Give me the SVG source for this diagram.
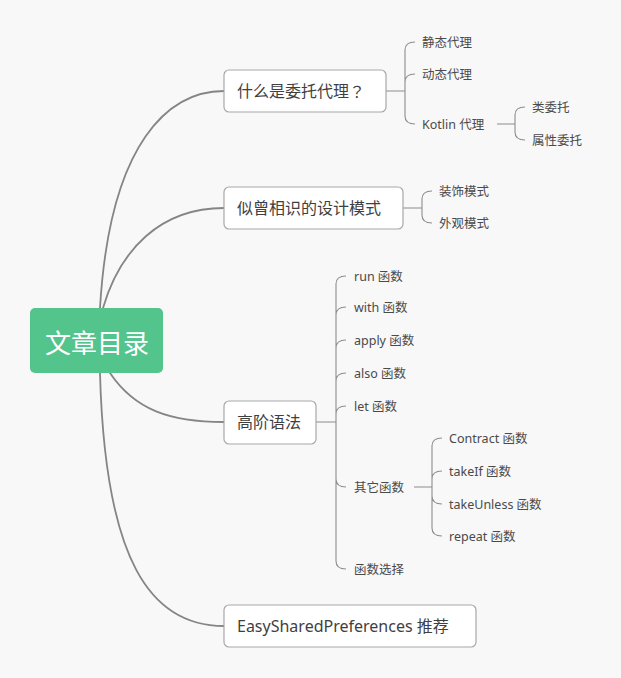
<svg xmlns="http://www.w3.org/2000/svg" width="621" height="678" viewBox="0 0 621 678">
<style>
.bg{fill:#f8f8f8}
.box{fill:#ffffff;stroke:#a8a8a8;stroke-width:1.2}
.root{fill:#52c48c}
.main{fill:none;stroke:#858585;stroke-width:1.8;stroke-linecap:round}
.sub{fill:none;stroke:#8c8c8c;stroke-width:1.1}
.t1{font-family:"Noto Sans","Noto Sans CJK SC",sans-serif;font-size:16px;fill:#3f3f3f;dominant-baseline:central}
.t2{font-family:"Noto Sans","Noto Sans CJK SC",sans-serif;font-size:12.5px;fill:#4a4a4a;dominant-baseline:central}
.cjk{font-family:"Noto Sans CJK JP","Noto Sans CJK SC",sans-serif}
.tr{font-family:"Noto Sans CJK SC","Noto Sans",sans-serif;font-size:26px;fill:#ffffff;dominant-baseline:central;text-anchor:middle}
</style>
<rect class="bg" x="0" y="0" width="621" height="678"/>
<g id="connectors">
<path class="main" d="M100 308 C110 140 170 91 224 91"/>
<path class="main" d="M103 308 C120 250 160 208 224 208"/>
<path class="main" d="M110 373 C135 410 170 422 224 422"/>
<path class="main" d="M100 373 C105 560 150 626 224 626"/>
<path class="sub" d="M386 91 H405 M405 91 V50 Q405 42 415 42 M405 91 V82 Q405 74 415 74 M405 91 V116 Q405 124 415 124"/>
<path class="sub" d="M497 124 H515 M515 124 V115 Q515 107 525 107 M515 124 V132 Q515 140 525 140"/>
<path class="sub" d="M403 208 H422 M422 208 V199 Q422 191 432 191 M422 208 V215 Q422 223 432 223"/>
<path class="sub" d="M316 422 H336 M336 422 V284 Q336 276 346 276 M336 422 V315 Q336 307 346 307 M336 422 V348 Q336 340 346 340 M336 422 V381 Q336 373 346 373 M336 422 V414 Q336 406 346 406 M336 422 V479 Q336 487 346 487 M336 422 V561 Q336 569 346 569"/>
<path class="sub" d="M414 487 H432 M432 487 V446 Q432 438 442 438 M432 487 V479 Q432 471 442 471 M432 487 V496 Q432 504 442 504 M432 487 V528 Q432 536 442 536"/>
</g>
<g id="root"><rect class="root" x="30" y="308" width="133" height="65" rx="5"/><text class="tr" x="97" y="341">文章目录</text></g>
<g id="n1"><rect class="box" x="224" y="70" width="162" height="42" rx="5"/><text class="t1" x="237" y="91">什么是委托代理<tspan class="cjk">？</tspan></text></g>
<g id="n2"><rect class="box" x="224" y="187" width="179" height="42" rx="5"/><text class="t1" x="237" y="208">似曾相识的设计模式</text></g>
<g id="n3"><rect class="box" x="224" y="401" width="92" height="43" rx="5"/><text class="t1" x="237" y="422">高阶语法</text></g>
<g id="n4"><rect class="box" x="224" y="605" width="252" height="42" rx="5"/><text class="t1" x="237" y="626">EasySharedPreferences 推荐</text></g>
<g id="n1a"><text class="t2" x="422" y="42">静态代理</text></g>
<g id="n1b"><text class="t2" x="422" y="74">动态代理</text></g>
<g id="n1c"><text class="t2" x="422" y="124">Kotlin 代理</text></g>
<g id="n1c1"><text class="t2" x="532" y="107">类委托</text></g>
<g id="n1c2"><text class="t2" x="532" y="140">属性委托</text></g>
<g id="n2a"><text class="t2" x="439" y="191">装饰模式</text></g>
<g id="n2b"><text class="t2" x="439" y="223">外观模式</text></g>
<g id="n3a"><text class="t2" x="354" y="276">run 函数</text></g>
<g id="n3b"><text class="t2" x="354" y="307">with 函数</text></g>
<g id="n3c"><text class="t2" x="354" y="340">apply 函数</text></g>
<g id="n3d"><text class="t2" x="354" y="373">also 函数</text></g>
<g id="n3e"><text class="t2" x="354" y="406">let 函数</text></g>
<g id="n3f"><text class="t2" x="354" y="487">其它函数</text></g>
<g id="n3g"><text class="t2" x="354" y="569">函数选择</text></g>
<g id="n3f1"><text class="t2" x="449" y="438">Contract 函数</text></g>
<g id="n3f2"><text class="t2" x="449" y="471">takeIf 函数</text></g>
<g id="n3f3"><text class="t2" x="449" y="504">takeUnless 函数</text></g>
<g id="n3f4"><text class="t2" x="449" y="536">repeat 函数</text></g>
</svg>
